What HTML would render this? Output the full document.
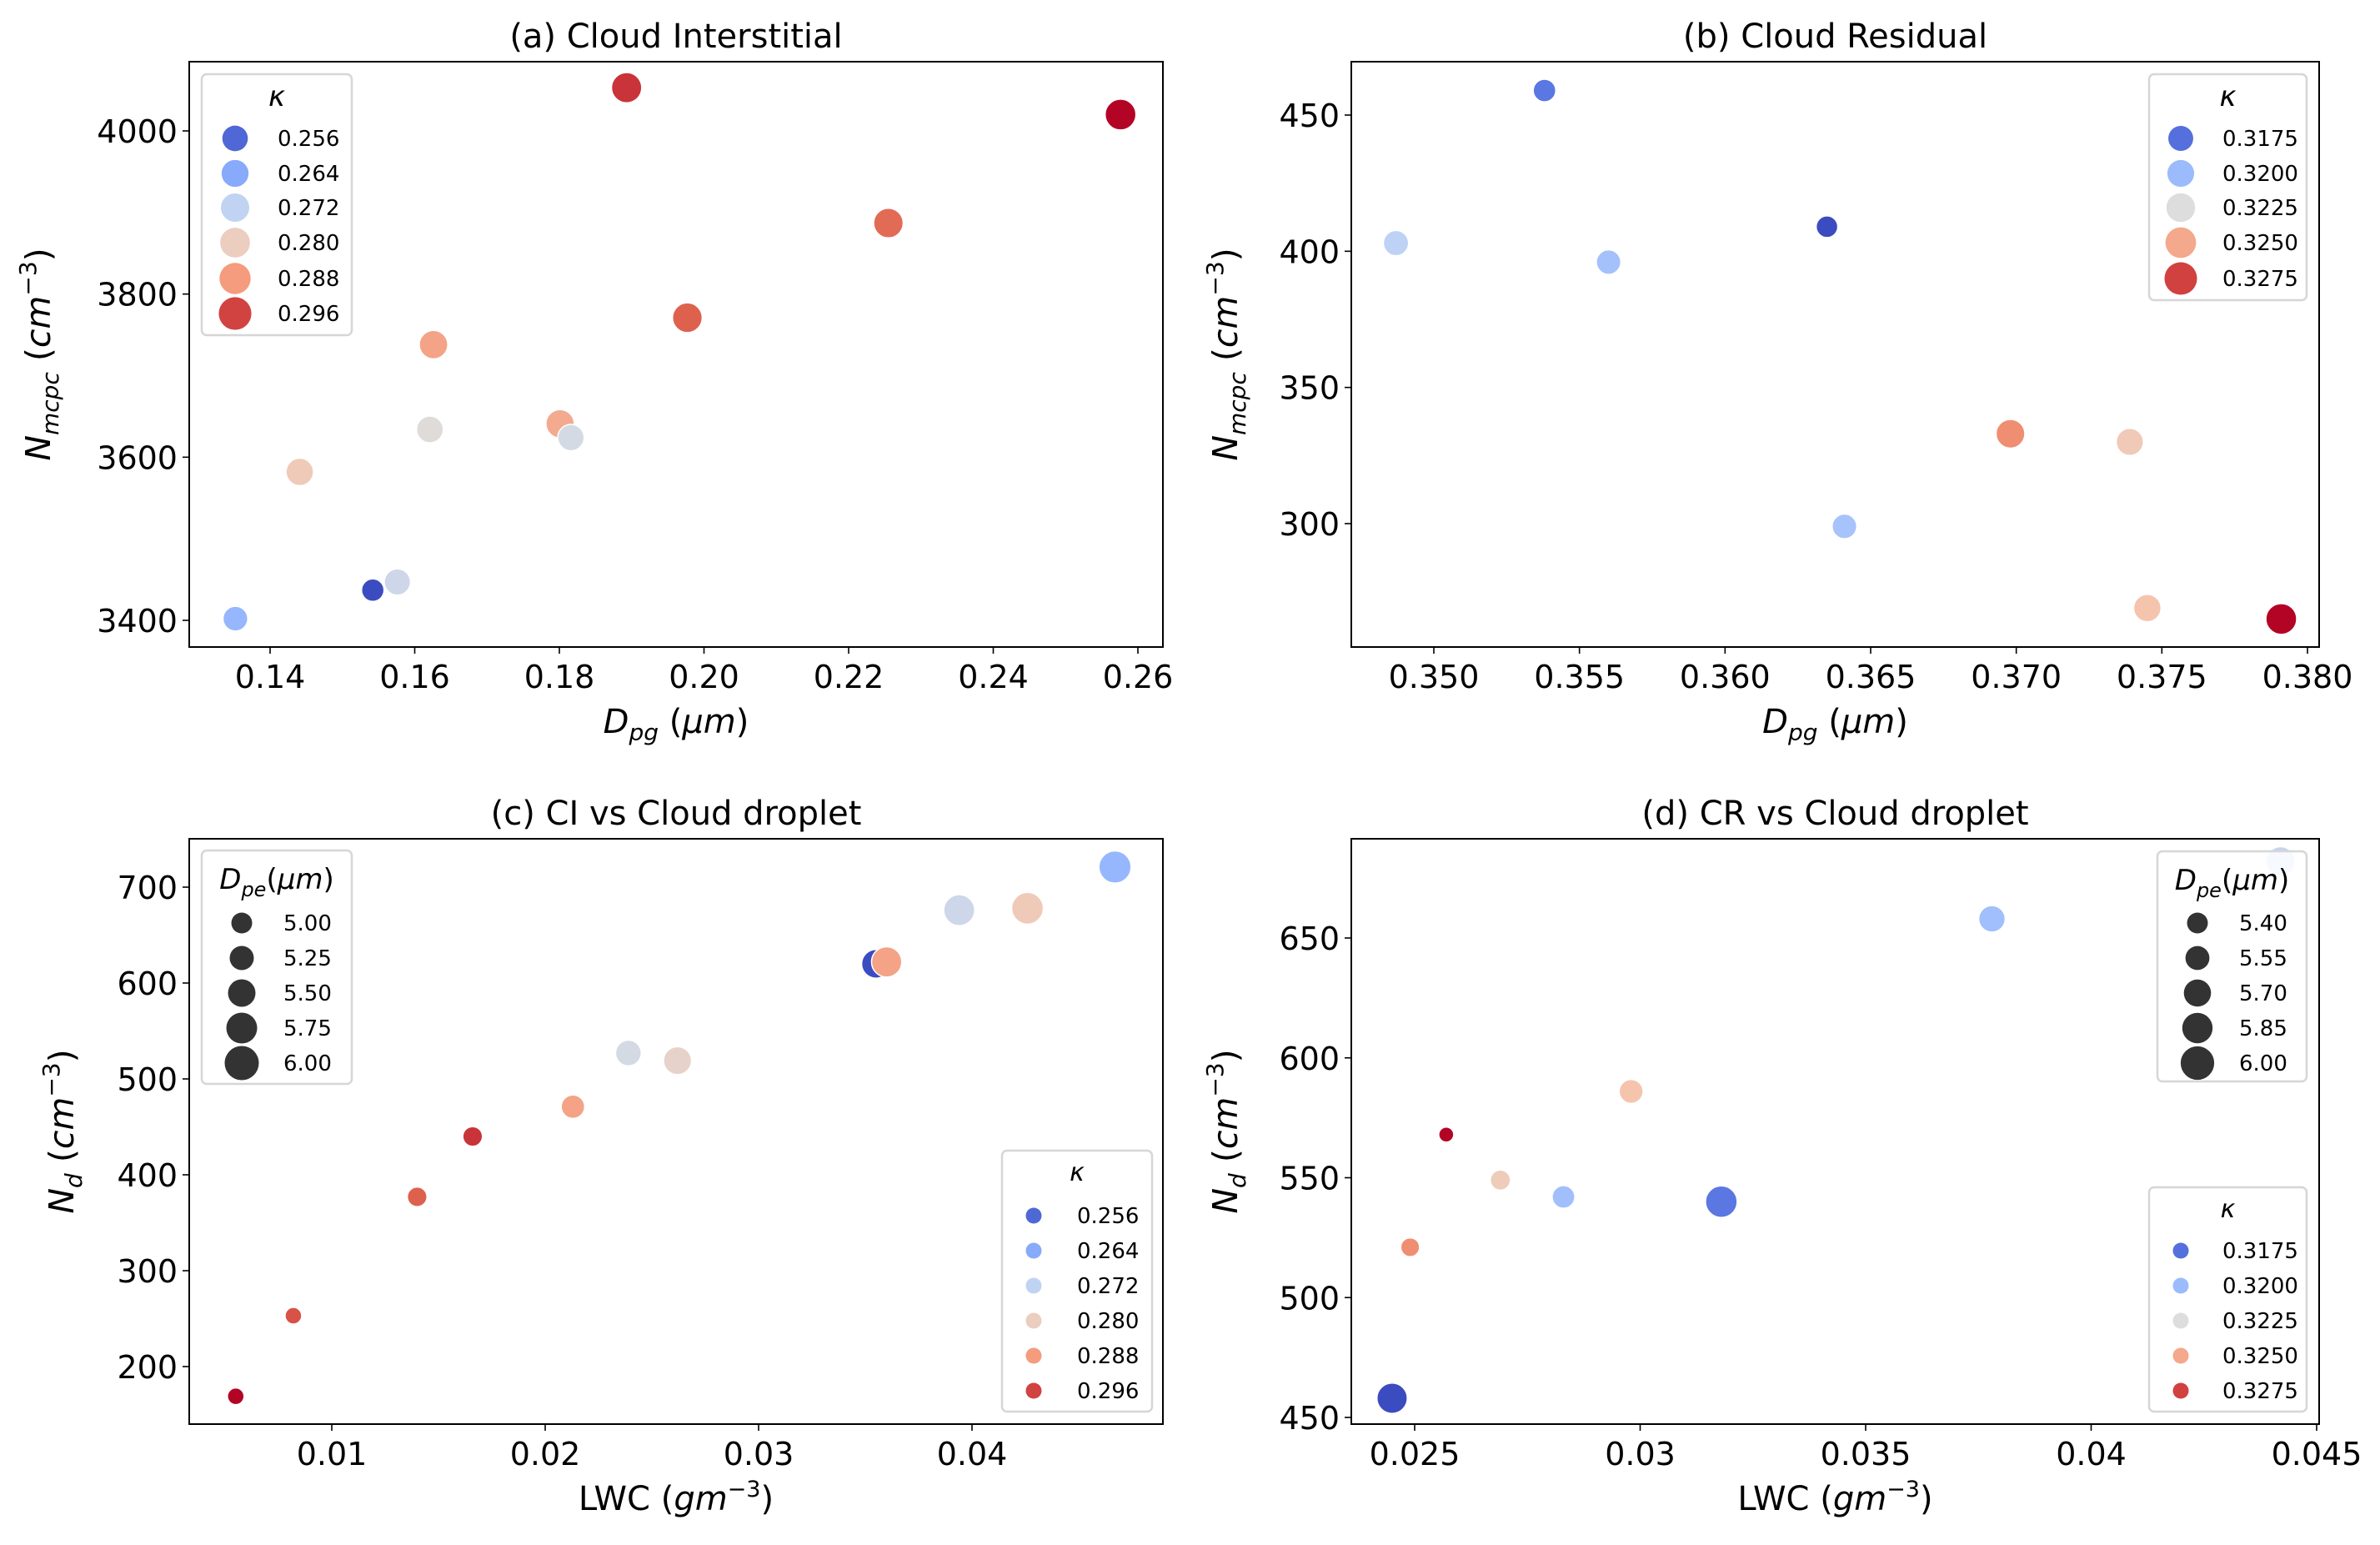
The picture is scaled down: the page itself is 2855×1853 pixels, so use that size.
<!DOCTYPE html>
<html><head><meta charset="utf-8">
<style>
html,body{margin:0;padding:0;background:#fff;}
svg{display:block;font-family:"DejaVu Sans","Liberation Sans",sans-serif;}
</style></head>
<body>
<svg id="fig" width="2855" height="1853" viewBox="0 0 2855 1853" xmlns="http://www.w3.org/2000/svg"></svg>
<script>
// ---------- Panel (a) data ----------
const aDpg   = [0.1352,0.1542,0.1576,0.1441,0.1621,0.1626,0.1801,0.1816,0.1893,0.1977,0.2255,0.2576];
const aN     = [3402,3437,3447,3582,3634,3738,3641,3624,4053,3771,3887,4020];
const aKappa = [0.266,0.253,0.274,0.281,0.277,0.287,0.286,0.275,0.297,0.294,0.293,0.300];
const aXTicks = [0.14,0.16,0.18,0.20,0.22,0.24,0.26];
const aXTickLabels = ["0.14","0.16","0.18","0.20","0.22","0.24","0.26"];
const aYTicks = [3400,3600,3800,4000];
const aLegK = [0.256,0.264,0.272,0.280,0.288,0.296];
const aLegKLabels = ["0.256","0.264","0.272","0.280","0.288","0.296"];
// ---------- Panel (b) data ----------
const bDpg   = [0.3538,0.3487,0.3560,0.3635,0.3641,0.3698,0.3739,0.3745,0.3791];
const bN     = [459,403,396,409,299,333,330,269,265];
const bKappa = [0.3177,0.3212,0.3203,0.3165,0.3204,0.3258,0.3237,0.3240,0.3285];
const bXTicks = [0.350,0.355,0.360,0.365,0.370,0.375,0.380];
const bXTickLabels = ["0.350","0.355","0.360","0.365","0.370","0.375","0.380"];
const bYTicks = [300,350,400,450];
const bLegK = [0.3175,0.3200,0.3225,0.3250,0.3275];
const bLegKLabels = ["0.3175","0.3200","0.3225","0.3250","0.3275"];
// ---------- Panel (c) data ----------
const cLWC   = [0.0055,0.0082,0.0140,0.0166,0.0213,0.0239,0.0262,0.0355,0.0360,0.0394,0.0426,0.0467];
const cNd    = [169,253,377,440,471,527,519,620,622,676,678,721];
const cKappa = [0.300,0.295,0.294,0.297,0.287,0.275,0.279,0.253,0.287,0.274,0.281,0.266];
const cDpe   = [4.95,4.95,5.15,5.15,5.40,5.55,5.70,5.75,5.85,5.90,5.95,5.98];
const cXTicks = [0.01,0.02,0.03,0.04];
const cXTickLabels = ["0.01","0.02","0.03","0.04"];
const cYTicks = [200,300,400,500,600,700];
const cLegD = [5.00,5.25,5.50,5.75,6.00];
const cLegDLabels = ["5.00","5.25","5.50","5.75","6.00"];
// ---------- Panel (d) data ----------
const dLWC   = [0.0245,0.0249,0.0257,0.0269,0.0283,0.0298,0.0318,0.0378,0.0442];
const dNd    = [458,521,568,549,542,586,540,658,682];
const dKappa = [0.3165,0.3258,0.3285,0.3236,0.3202,0.3240,0.3177,0.3202,0.3215];
const dDpe   = [5.95,5.50,5.35,5.55,5.65,5.70,6.00,5.80,5.90];
const dXTicks = [0.025,0.030,0.035,0.040,0.045];
const dXTickLabels = ["0.025","0.03","0.035","0.04","0.045"];
const dYTicks = [450,500,550,600,650];
const dLegD = [5.40,5.55,5.70,5.85,6.00];
const dLegDLabels = ["5.40","5.55","5.70","5.85","6.00"];

const NS="http://www.w3.org/2000/svg";
const svg=document.getElementById('fig');
function mk(tag,attrs,parent){const e=document.createElementNS(NS,tag);for(const k in attrs)e.setAttribute(k,attrs[k]);(parent||svg).appendChild(e);return e;}

const CW=[[59,76,192],[98,130,234],[141,176,254],[184,208,249],[221,221,221],[245,196,173],[244,154,123],[222,96,77],[180,4,38]];
function coolwarm(t){t=Math.max(0,Math.min(1,t));const p=t*8;const i=Math.min(7,Math.floor(p));const f=p-i;const a=CW[i],b=CW[i+1];
 return `rgb(${Math.round(a[0]+(b[0]-a[0])*f)},${Math.round(a[1]+(b[1]-a[1])*f)},${Math.round(a[2]+(b[2]-a[2])*f)})`;}

function linScale(v0,p0,v1,p1){return v=>p0+(v-v0)*(p1-p0)/(v1-v0);}

function panel(o){
 const g=mk('g',{});
 
 
 const t=mk('text',{x:(o.L+o.R)/2,y:o.T-17,'text-anchor':'middle','font-size':40,fill:'#000'},g);
 t.textContent=o.title;
 
 
 o.xTicks.forEach((v,i)=>{const x=o.sx(v);
  const l=mk('line',{x1:x,x2:x,y1:o.B,y2:o.B+8,stroke:'#000','stroke-width':1.6},g);
  
  
  const tx=mk('text',{x:x,y:o.B+49,'text-anchor':'middle','font-size':38},g);
  tx.textContent=o.xLabels[i];
  
  });
 o.yTicks.forEach(v=>{const y=o.sy(v);
  const l=mk('line',{x1:o.L-8,x2:o.L,y1:y,y2:y,stroke:'#000','stroke-width':1.6},g);
  
  
  const tx=mk('text',{x:o.L-14,y:y+14,'text-anchor':'end','font-size':38},g);
  tx.textContent=String(v);
  
  });
 const xl=mk('text',{x:(o.L+o.R)/2,y:o.B+103,'text-anchor':'middle','font-size':40},g);
 xl.innerHTML=o.xLabel;
 
 
 const yl=mk('text',{x:0,y:0,'text-anchor':'middle','font-size':41,transform:`translate(${o.yLabX},${(o.T+o.B)/2}) rotate(-90)`},g);
 yl.innerHTML=o.yLabel;
 
 
 const pg=mk('g',{},g);
 
 
 o.xs.forEach((xv,i)=>{
  const c=mk('circle',{cx:o.sx(xv),cy:o.sy(o.ys[i]),r:o.r(i),fill:o.col(i),stroke:'#fff','stroke-width':1.5},pg);
  
  
 });
 const fr=mk('rect',{x:o.L,y:o.T,width:o.R-o.L,height:o.B-o.T,fill:'none',stroke:'#000','stroke-width':2},g);
 
 
 return g;
}

function legend(parent,box,title,items,markerX,textX,rowY){
 const g=mk('g',{},parent);
 
 
 mk('rect',{x:box[0],y:box[1],width:box[2]-box[0],height:box[3]-box[1],rx:6,fill:'rgba(255,255,255,0.85)',stroke:'#d6d6d6','stroke-width':2.5},g);
 const t=mk('text',{x:(box[0]+box[2])/2,y:box[1]+title.dy,'text-anchor':'middle','font-size':title.size,'font-style':'italic'},g);
 t.innerHTML=title.html;
 
 
 items.forEach((it,i)=>{const y=rowY[i];
  const c=mk('circle',{cx:markerX,cy:y,r:it.r,fill:it.col},g);
  
  
  const tx=mk('text',{x:textX,y:y+9,'font-size':26},g);
  tx.textContent=it.label;
  
  });
}

const yN='<tspan font-style="italic">N</tspan><tspan font-style="italic" font-size="28" dy="10">mcpc</tspan><tspan dy="-10"> (</tspan><tspan font-style="italic">cm</tspan><tspan font-size="28" dy="-17">−3</tspan><tspan dy="17">)</tspan>';
const yNd='<tspan font-style="italic">N</tspan><tspan font-style="italic" font-size="28" dy="10">d</tspan><tspan dy="-10"> (</tspan><tspan font-style="italic">cm</tspan><tspan font-size="28" dy="-17">−3</tspan><tspan dy="17">)</tspan>';
const xD='<tspan font-style="italic">D</tspan><tspan font-style="italic" font-size="28" dy="9">pg</tspan><tspan dy="-9"> (</tspan><tspan font-style="italic">μm</tspan>)';
const xL='LWC (<tspan font-style="italic">gm</tspan><tspan font-size="27" dy="-16">−3</tspan><tspan dy="16">)</tspan>';

const aN0=0.253,aN1=0.300;
const arK=k=>13.5+(k-aN0)/(aN1-aN0)*5;
const ga=panel({name:'panel-a-cloud-interstitial',title:'(a) Cloud Interstitial',L:227,R:1395,T:74,B:776,
 sx:linScale(0.14,324,0.26,1365),sy:linScale(3400,744,4000,157),xTicks:aXTicks,xLabels:aXTickLabels,yTicks:aYTicks,
 xLabel:xD,yLabel:yN,yLabX:60,xs:aDpg,ys:aN,r:i=>arK(aKappa[i]),col:i=>coolwarm((aKappa[i]-aN0)/(aN1-aN0))});
legend(ga,[242,89,422,402],{html:'κ',size:34,dy:38},aLegK.map((k,i)=>({r:arK(k)+1.5,col:coolwarm((k-aN0)/(aN1-aN0)),label:aLegKLabels[i]})),282,333,[166,208,249,291,334,376]);

const bN0=0.3165,bN1=0.3285;
const brK=k=>13+(k-bN0)/(bN1-bN0)*5.5;
const gb=panel({name:'panel-b-cloud-residual',title:'(b) Cloud Residual',L:1621,R:2782,T:74,B:776,
 sx:linScale(0.350,1720,0.380,2768),sy:linScale(300,628,450,138),xTicks:bXTicks,xLabels:bXTickLabels,yTicks:bYTicks,
 xLabel:xD,yLabel:yN,yLabX:1484,xs:bDpg,ys:bN,r:i=>brK(bKappa[i]),col:i=>coolwarm((bKappa[i]-bN0)/(bN1-bN0))});
legend(gb,[2578,89,2767,360],{html:'κ',size:34,dy:38},bLegK.map((k,i)=>({r:brK(k)+1.5,col:coolwarm((k-bN0)/(bN1-bN0)),label:bLegKLabels[i]})),2616,2666,[166,208,249,291,334]);

const crD=d=>10+(d-4.95)/(6.0-4.95)*9.5;
const gc=panel({name:'panel-c-ci-vs-cloud-droplet',title:'(c) CI vs Cloud droplet',L:227,R:1395,T:1006,B:1708,
 sx:linScale(0.01,398,0.04,1166),sy:linScale(200,1639,700,1064),xTicks:cXTicks,xLabels:cXTickLabels,yTicks:cYTicks,
 xLabel:xL,yLabel:yNd,yLabX:88,xs:cLWC,ys:cNd,r:i=>crD(cDpe[i]),col:i=>coolwarm((cKappa[i]-aN0)/(aN1-aN0))});
legend(gc,[242,1020,422,1300],{html:'D<tspan font-size="24" dy="9">pe</tspan><tspan dy="-9" font-style="normal">(</tspan>μm<tspan font-style="normal">)</tspan>',size:34,dy:46},cLegD.map((d,i)=>({r:12.5+i*2,col:'#333',label:cLegDLabels[i]})),290,340,[1107,1149,1191,1233,1275]);
legend(gc,[1202,1380,1382,1693],{html:'κ',size:30,dy:36},aLegK.map((k,i)=>({r:9.5,col:coolwarm((k-aN0)/(aN1-aN0)),label:aLegKLabels[i]})),1240,1292,[1458,1500,1542,1584,1626,1668]);

const drD=d=>9+(d-5.35)/(6.0-5.35)*10;
const gd=panel({name:'panel-d-cr-vs-cloud-droplet',title:'(d) CR vs Cloud droplet',L:1621,R:2782,T:1006,B:1708,
 sx:linScale(0.025,1697,0.045,2779),sy:linScale(450,1700,650,1125),xTicks:dXTicks,xLabels:dXTickLabels,yTicks:dYTicks,
 xLabel:xL,yLabel:yNd,yLabX:1484,xs:dLWC,ys:dNd,r:i=>drD(dDpe[i]),col:i=>coolwarm((dKappa[i]-bN0)/(bN1-bN0))});
legend(gd,[2588,1021,2767,1297],{html:'D<tspan font-size="24" dy="9">pe</tspan><tspan dy="-9" font-style="normal">(</tspan>μm<tspan font-style="normal">)</tspan>',size:34,dy:46},dLegD.map((d,i)=>({r:12.5+i*1.9,col:'#333',label:dLegDLabels[i]})),2636,2686,[1107,1149,1191,1233,1275]);
legend(gd,[2578,1424,2767,1693],{html:'κ',size:30,dy:36},bLegK.map((k,i)=>({r:9.5,col:coolwarm((k-bN0)/(bN1-bN0)),label:bLegKLabels[i]})),2616,2666,[1500,1542,1584,1626,1668]);
</script>
</body></html>
